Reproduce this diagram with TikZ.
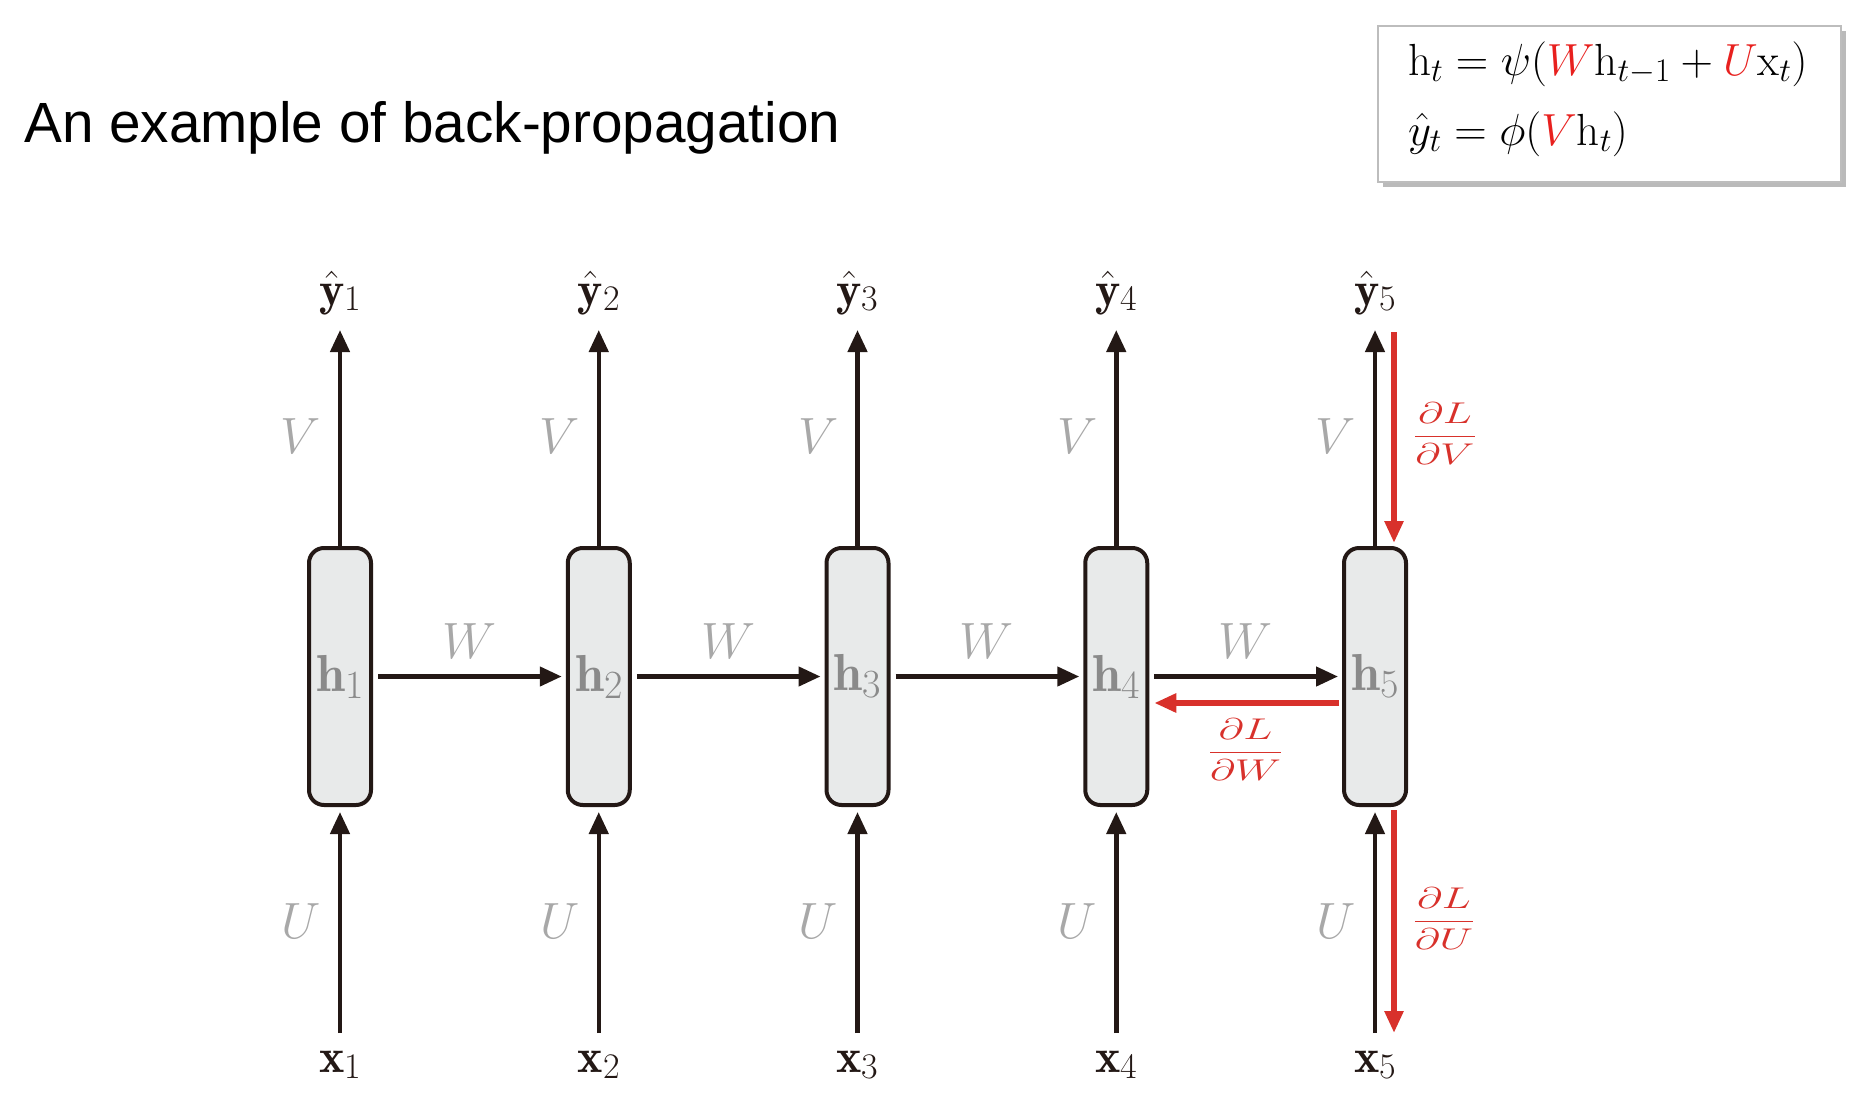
\RequirePackage{fix-cm}
\documentclass[tikz,border=0pt]{standalone}
\usepackage{fontspec}
\usepackage{amsmath}
\usepackage{graphicx}
\usetikzlibrary{arrows.meta,shadows}
\DeclareMathSizes{45}{45}{33}{24}
\newfontfamily\titlefont{Liberation Sans}
\definecolor{ink}{HTML}{231815}
\definecolor{bpred}{HTML}{D8312B}
\definecolor{fred}{HTML}{E8201E}
\definecolor{lblgray}{HTML}{A8A8A8}
\definecolor{hgray}{HTML}{8A8A8A}
\definecolor{boxfill}{HTML}{E8EAEA}
\definecolor{eqborder}{HTML}{BDBDBD}
\begin{document}
\begin{tikzpicture}[x=1pt,y=-1pt,
  hbox/.style={draw=ink, line width=4pt, fill=boxfill, rounded corners=15pt,
    minimum width=62pt, minimum height=257pt, inner sep=0pt,
    font=\fontsize{52}{52}\selectfont, text=hgray},
  fwd/.style={draw=ink, line width=4.5pt, -{Triangle[length=22pt,width=19pt]}},
  bwd/.style={draw=bpred, line width=5.5pt, -{Triangle[length=22pt,width=18pt]}},
  io/.style={inner sep=0pt, anchor=base, font=\fontsize{48}{48}\selectfont, text=ink},
  wlab/.style={inner sep=0pt, anchor=base, font=\fontsize{51}{51}\selectfont, text=lblgray},
  grad/.style={inner sep=0pt, text=bpred, font=\fontsize{30}{30}\selectfont},
  eqline/.style={inner sep=0pt, anchor=base west, font=\fontsize{45}{45}\selectfont, text=black},
]
\useasboundingbox (0,0) rectangle (1860,1108);

% title
\node[anchor=base west, inner sep=0pt, font=\titlefont\fontsize{56.7}{57}\selectfont] (title) at (24,142) {An example of back-propagation};

% equation box
\node[draw=eqborder, line width=2pt, fill=white, minimum width=463pt, minimum height=156pt, inner sep=0pt,
  drop shadow={shadow xshift=5pt, shadow yshift=-5pt, fill=black!45, opacity=0.6}] (eqbox) at (1609.5,104) {};
\node[eqline] (eq1) at (1408,75) {$\mathrm{h}_t = \psi(\textcolor{fred}{W}\mathrm{h}_{t-1} + \textcolor{fred}{U}\mathrm{x}_t)$};
\node[eqline] (eq2) at (1408,145) {$\hat{y}_t = \phi(\textcolor{fred}{V}\mathrm{h}_t)$};

% units
\foreach \i/\x in {1/340,2/598.75,3/857.5,4/1116.25,5/1375} {
  \node[hbox] (h\i) at (\x,676.5) {$\mathbf{h}$\raisebox{-7pt}{\fontsize{40}{40}\selectfont\i}};
  \node[io] (y\i) at (\x,305) {$\hat{\mathbf{y}}$\raisebox{-5pt}{\fontsize{36}{36}\selectfont\i}};
  \node[io] (x\i) at (\x,1072) {$\mathbf{x}$\raisebox{-6pt}{\fontsize{36}{36}\selectfont\i}};
  \coordinate (t\i) at (\x,330);
  \coordinate (b\i) at (\x,1033);
  \draw[fwd] (h\i.north) -- (t\i);
  \draw[fwd] (b\i) -- ([yshift=-5pt]h\i.south);
  \node[wlab] (V\i) at (\x-39,453) {$V$};
  \node[wlab] (U\i) at (\x-39,938) {$U$};
}

% recurrent connections
\foreach \i/\j/\x in {1/2/340,2/3/598.75,3/4/857.5,4/5/1116.25} {
  \draw[fwd] ([xshift=5pt]h\i.east) -- ([xshift=-4pt]h\j.west);
  \node[wlab] (W\i) at (\x+129.4,658) {$W$};
}

% back-propagation
\draw[bwd] ([xshift=-3pt,yshift=-26.5pt]h5.west) -- ([xshift=5pt,yshift=-26.5pt]h4.east);
\coordinate (rt) at (1394,332);
\coordinate (rb) at (1394,1033);
\draw[bwd] (rt) -- ([xshift=19pt,yshift=3pt]h5.north);
\draw[bwd] ([xshift=19pt,yshift=-3pt]h5.south) -- (rb);

\node[grad] (gW) at (1245.6,750) {\scalebox{1.45}[1]{$\dfrac{\partial L}{\partial W}$}};
\node[grad] (gV) at (1445,434) {\scalebox{1.45}[1]{$\dfrac{\partial L}{\partial V}$}};
\node[grad] (gU) at (1444,919) {\scalebox{1.45}[1]{$\dfrac{\partial L}{\partial U}$}};
\end{tikzpicture}
\end{document}
